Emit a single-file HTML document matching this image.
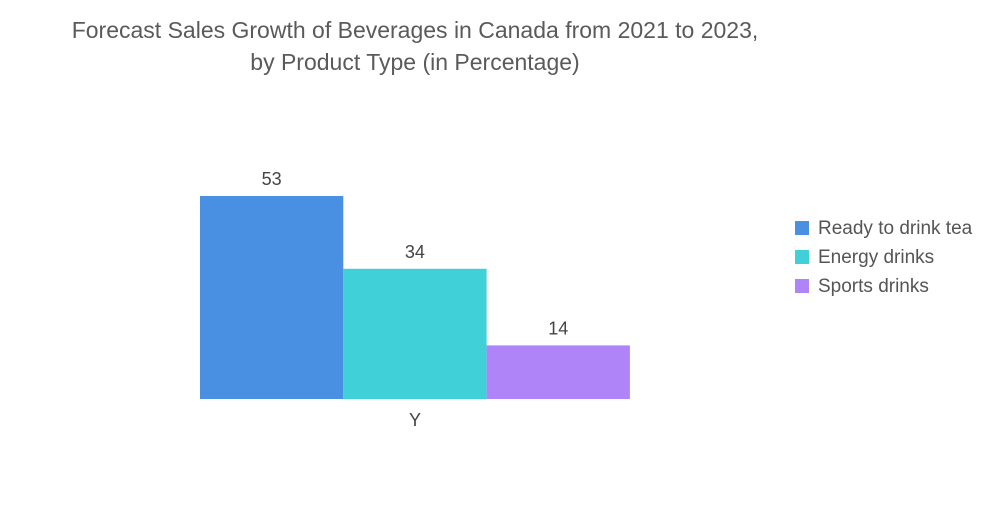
<!DOCTYPE html>
<html><head><meta charset="utf-8"><style>
body{margin:0;background:#fff;width:1000px;height:504px;overflow:hidden;font-family:"Liberation Sans",sans-serif}
</style></head><body>
<svg width="1000" height="504">
<text x="415" y="38" text-anchor="middle" font-size="23" fill="#5a5a5a">Forecast Sales Growth of Beverages in Canada from 2021 to 2023,</text>
<text x="415" y="70" text-anchor="middle" font-size="23" fill="#5a5a5a">by Product Type (in Percentage)</text>
<g id="bars"></g>
<text x="415" y="426" text-anchor="middle" font-size="18" fill="#444">Y</text>
<g id="legend"></g>
</svg>
<script>
const categories=["Ready to drink tea","Energy drinks","Sports drinks"];
const values=[53,34,14];
const colors=["#4a90e2","#3fd0d8","#b084f9"];
const base=399,scale=3.83,x0=200,bw=143.3;
const ns="http://www.w3.org/2000/svg";
const g=document.getElementById('bars');
values.forEach((v,i)=>{
 const r=document.createElementNS(ns,'rect');
 const h=v*scale;
 r.setAttribute('x',x0+i*bw);r.setAttribute('y',base-h);r.setAttribute('width',bw);r.setAttribute('height',h);r.setAttribute('fill',colors[i]);
 
 
 g.appendChild(r);
 const t=document.createElementNS(ns,'text');
 t.setAttribute('x',x0+i*bw+bw/2);t.setAttribute('y',base-h-11);t.setAttribute('text-anchor','middle');t.setAttribute('font-size','18');t.setAttribute('fill','#444');
 t.textContent=v;
 
 
 g.appendChild(t);
});
const lg=document.getElementById('legend');
categories.forEach((c,i)=>{
 const y=221+i*29;
 const r=document.createElementNS(ns,'rect');
 r.setAttribute('x',795);r.setAttribute('y',y);r.setAttribute('width',14);r.setAttribute('height',14);r.setAttribute('fill',colors[i]);
 
 
 lg.appendChild(r);
 const t=document.createElementNS(ns,'text');
 t.setAttribute('x',818);t.setAttribute('y',y+13);t.setAttribute('font-size','19');t.setAttribute('fill','#555');
 t.textContent=c;
 
 
 lg.appendChild(t);
});
</script>
</body></html>
